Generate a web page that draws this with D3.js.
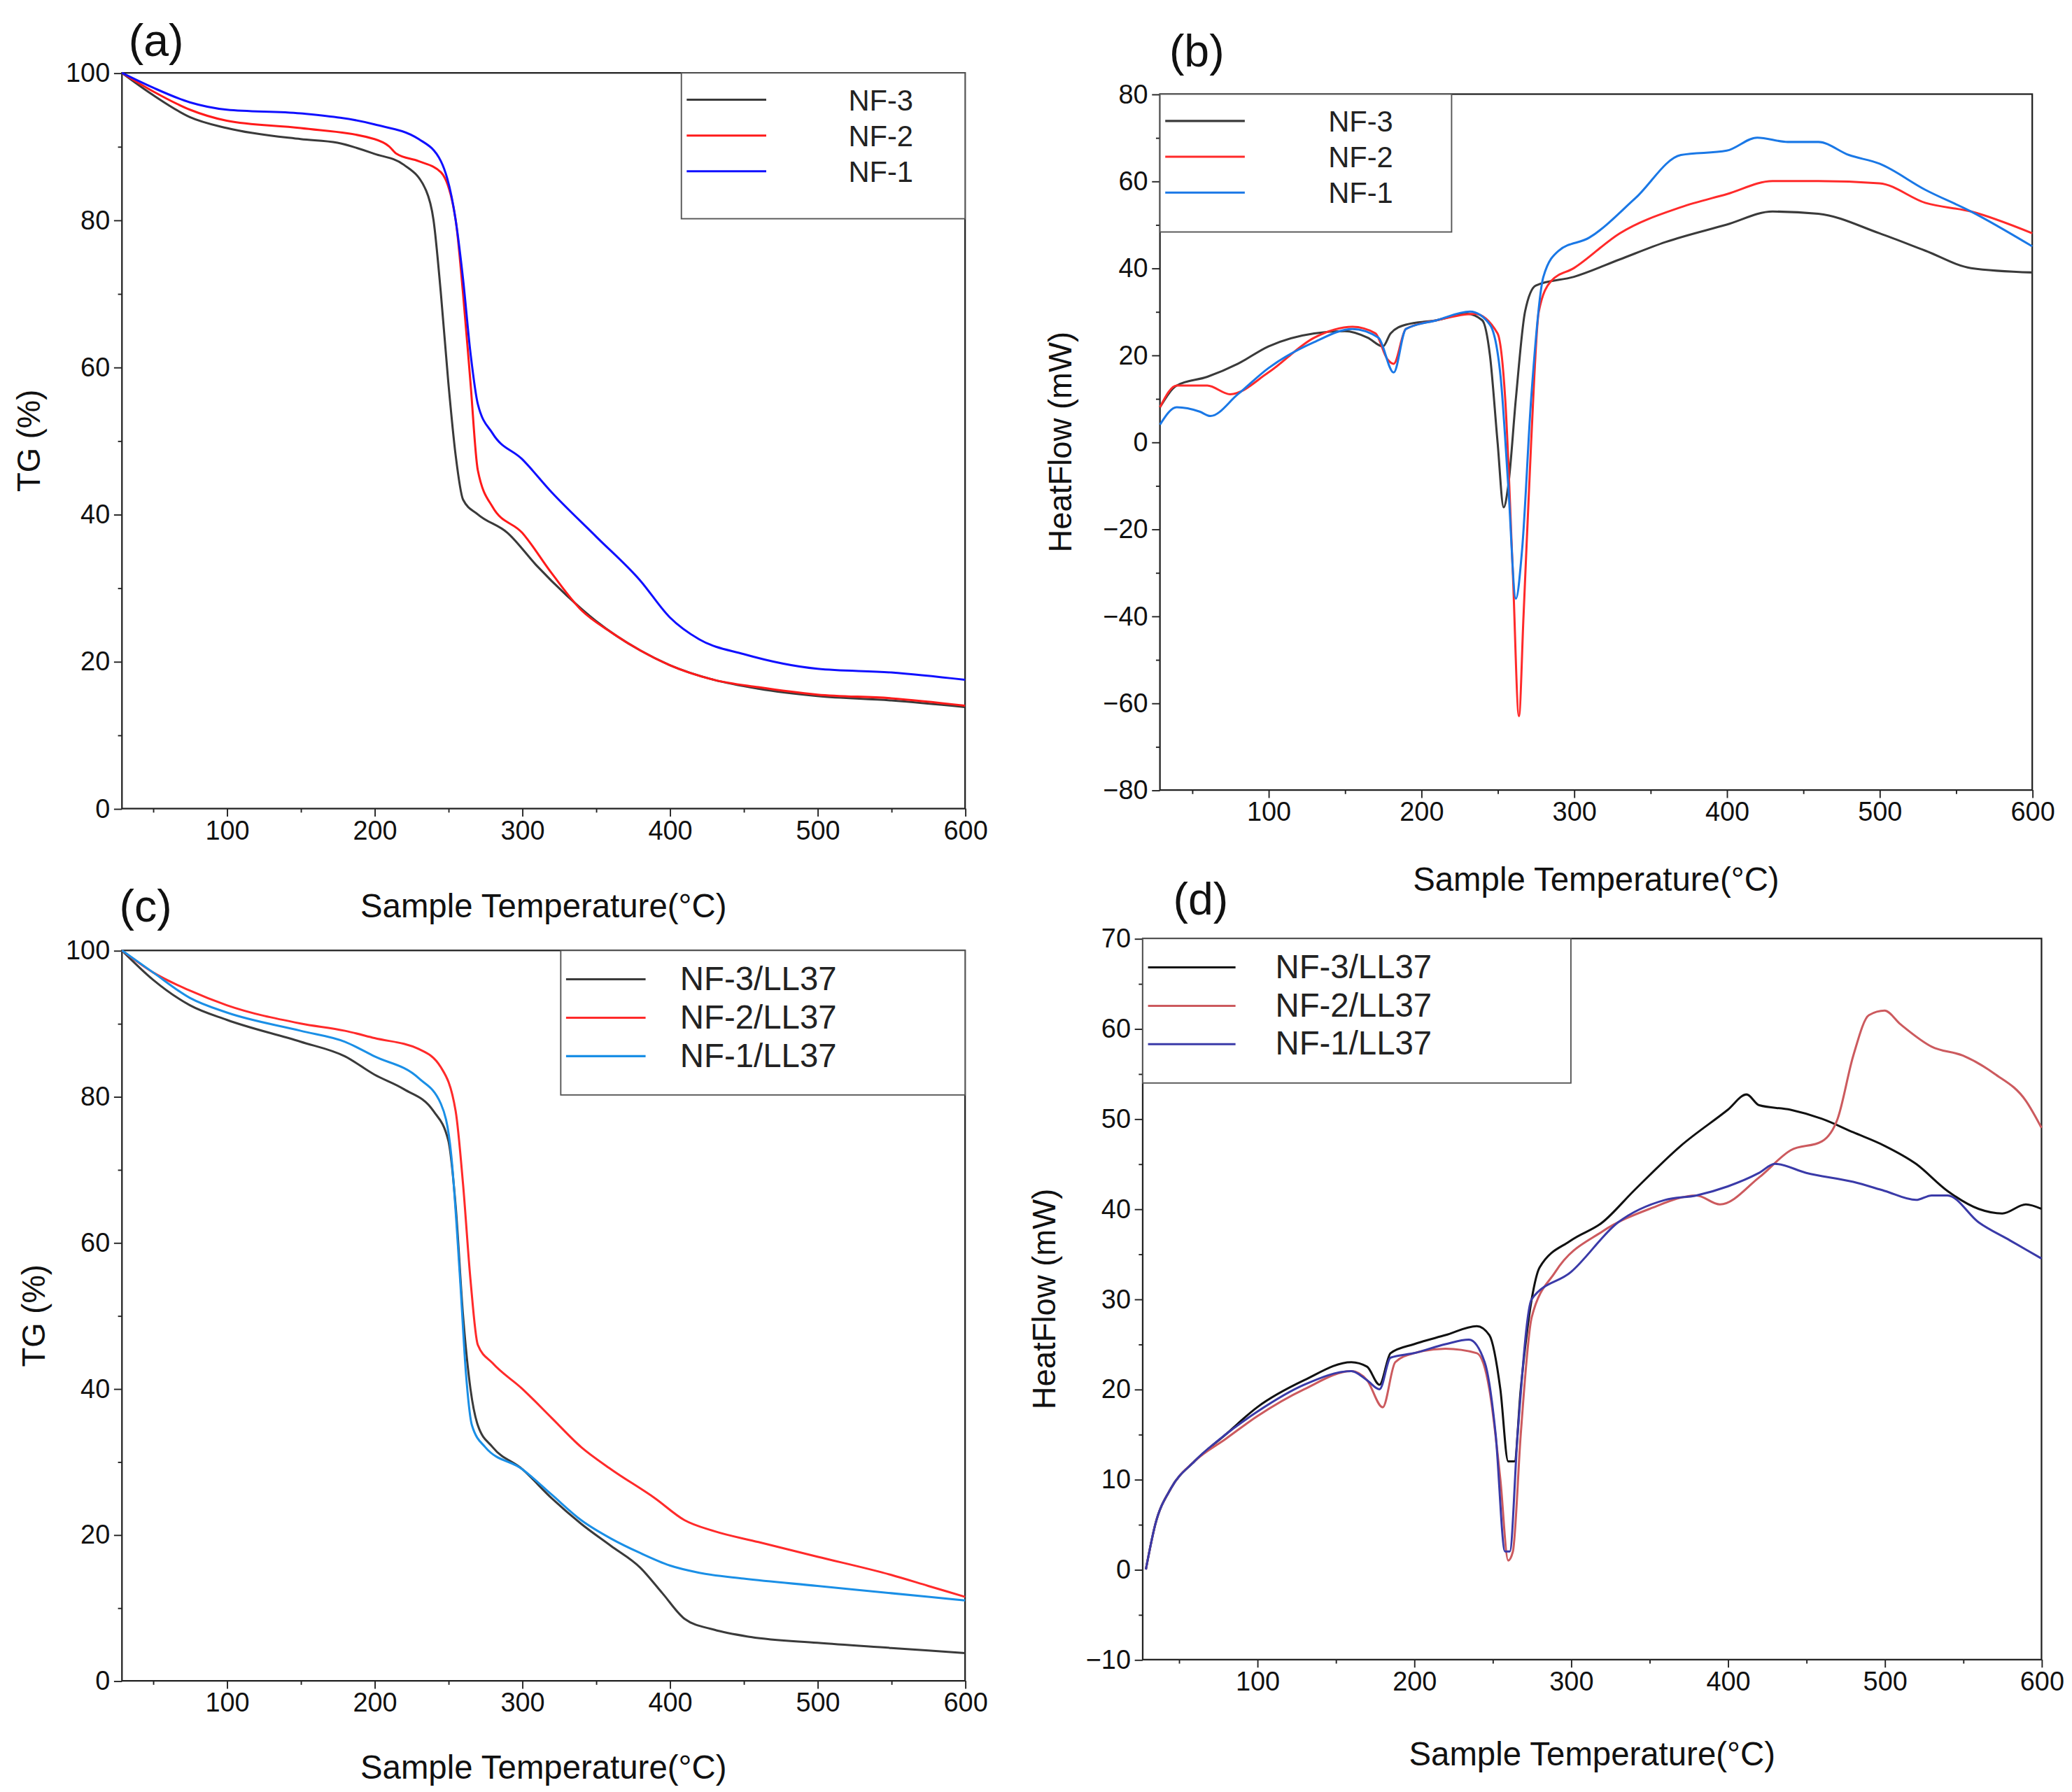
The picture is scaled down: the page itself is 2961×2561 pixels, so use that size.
<!DOCTYPE html>
<html><head><meta charset="utf-8">
<script src="https://cdn.jsdelivr.net/npm/d3@7"></script>
<style>body{margin:0;background:#fff}text{font-family:Arial,"Liberation Sans",sans-serif}</style>
</head><body><svg id="c" width="2961" height="2561"></svg>
<script>
// Panel (a) TG
const aNF3=[[29,100],[50,97],[75,94],[100,92.5],[150,91],[175,90.5],[200,89],[220,87.5],[235,84],[240,80],[245,70],[250,58],[255,48],[260,42],[270,40],[290,37.5],[310,33],[330,29],[350,25.5],[380,21.5],[400,19.5],[430,17.5],[460,16.3],[500,15.3],[550,14.7],[600,13.8]];
const aNF2=[[29,100],[50,97.5],[75,95],[100,93.5],[150,92.5],[200,91],[210,90],[215,89],[230,88],[245,86.5],[255,80],[260,70],[265,58],[270,46],[280,41],[300,37.5],[320,32],[340,27],[360,24],[380,21.5],[400,19.5],[430,17.5],[460,16.5],[500,15.5],[550,15],[600,14]];
const aNF1=[[29,100],[50,98],[75,96],[100,95],[150,94.5],[200,93],[230,91],[245,88],[255,80],[260,72],[265,62],[270,55],[280,51],[300,47.5],[320,43],[350,37],[380,31],[400,26],[420,23],[450,21],[500,19],[550,18.5],[600,17.5]];
// Panel (b) HeatFlow
const bNF3=[[29,8],[40,13],[60,15],[80,18],[100,22],[130,25],[150,25.5],[165,24],[175,22],[180,25],[190,27],[210,28],[230,29.5],[240,28],[245,20],[250,0],[254,-15],[257,-10],[262,10],[268,30],[275,36],[300,38],[330,42],[360,46],[400,50],[430,53],[460,52.5],[500,48],[530,44],[560,40],[600,39]];
const bNF2=[[29,8],[40,13],[60,13],[75,11],[100,16],[130,24],[155,26.5],[170,25],[178,19],[182,18],[190,26],[210,28],[235,29.5],[250,25],[255,10],[260,-30],[264,-63],[267,-40],[272,0],[277,30],[285,37],[300,40],[330,48],[370,54],[400,57],[430,60],[460,60],[500,59.5],[530,55],[560,53],[600,48]];
const bNF1=[[29,4],[40,8],[55,7],[62,6],[80,11],[100,17],[130,23],[155,26],[172,24],[182,16],[190,26],[210,28],[232,30],[245,27],[252,15],[257,-10],[262,-36],[266,-25],[272,10],[280,38],[290,44],[310,47],[340,56],[370,66],[400,67],[420,70],[440,69],[460,69],[480,66],[500,64],[530,58],[560,53],[600,45]];
// Panel (c) TG
const cNF3=[[29,100],[50,96],[75,92.5],[100,90.5],[150,87.5],[180,85.5],[200,83],[220,81],[240,78],[250,74],[255,65],[260,50],[265,40],[270,35],[280,32],[300,29],[320,25],[340,21.5],[360,18.5],[380,15.5],[395,12],[410,8.5],[430,7],[455,6],[500,5.2],[550,4.5],[600,3.8]];
const cNF2=[[29,100],[50,97],[75,94.5],[100,92.5],[150,90],[180,89],[200,88],[230,86.5],[245,84],[255,78],[260,68],[265,55],[270,46],[280,43.5],[300,40],[320,36],[340,32],[360,29],[390,25],[410,22],[430,20.5],[460,19],[500,17],[550,14.5],[575,13],[600,11.5]];
const cNF1=[[29,100],[50,97],[75,93.5],[100,91.5],[150,89],[180,87.5],[200,85.5],[230,82.5],[245,79],[252,72],[258,55],[262,42],[266,35],[275,32],[300,29],[320,25.5],[340,22],[360,19.5],[380,17.5],[400,15.8],[420,14.8],[450,14],[500,13],[550,12],[600,11]];
// Panel (d) HeatFlow
const dNF3=[[29,0],[35,5],[45,9],[60,12],[80,15],[100,18],[130,21],[160,23],[170,22.5],[178,20.5],[185,24],[200,25],[220,26],[240,27],[248,26],[255,20],[260,12],[264,12],[268,20],[275,30],[280,33.5],[300,36.5],[320,38.5],[340,42],[370,47],[400,51],[412,52.7],[420,51.5],[440,51],[460,50],[480,48.5],[500,47],[520,45],[540,42],[560,40],[575,39.5],[590,40.5],[600,40]];
const dNF2=[[29,0],[35,5],[45,9],[60,12],[80,14.5],[100,17],[130,20],[160,22],[170,21],[180,18],[188,23],[200,24],[220,24.5],[240,24],[248,20],[255,10],[260,1],[263,2],[268,15],[275,28],[290,33],[320,37.5],[350,40],[380,41.5],[395,40.5],[420,43.5],[440,46.5],[460,47.5],[470,50],[480,57],[490,61.5],[500,62],[510,60.5],[530,58],[550,57],[570,55],[590,52],[600,49]];
const dNF1=[[29,0],[35,5],[45,9],[60,12],[80,15],[100,17.5],[130,20.5],[160,22],[170,21],[178,20],[185,23.5],[200,24],[220,25],[235,25.5],[245,23],[252,15],[258,2],[261,2],[266,15],[275,30],[300,33],[330,38.5],[360,41],[380,41.5],[400,42.5],[420,44],[430,45],[450,44],[480,43],[500,42],[520,41],[530,41.5],[540,41.5],[560,38.5],[580,36.5],[600,34.5]];
const xTicks=[100,200,300,400,500,600];
const tgTicks=[0,20,40,60,80,100];
const bTicks=[-80,-60,-40,-20,0,20,40,60,80];
const dTicks=[-10,0,10,20,30,40,50,60,70];

const svg=d3.select("#c").append("g").attr("transform","scale("+(2961/1563)+")");
function panel(o){
  const g=svg.append("g");
  const x=d3.scaleLinear().domain(o.xd).range([o.x0,o.x1]);
  const y=d3.scaleLinear().domain(o.yd).range([o.y1,o.y0]);
  const ax=g.append("g").attr("transform",`translate(0,${o.y1})`).call(d3.axisBottom(x).tickValues(xTicks).tickSize(6).tickFormat(d3.format("d")));
  g.append("g").attr("transform",`translate(0,${o.y1})`).call(d3.axisBottom(x).tickValues(d3.range(50,600,100)).tickSize(3).tickFormat(""));
  const ay=g.append("g").attr("transform",`translate(${o.x0},0)`).call(d3.axisLeft(y).tickValues(o.yt).tickSize(6));
  const mt=[];for(let i=0;i<o.yt.length-1;i++)mt.push((o.yt[i]+o.yt[i+1])/2);
  g.append("g").attr("transform",`translate(${o.x0},0)`).call(d3.axisLeft(y).tickValues(mt).tickSize(3).tickFormat(""));
  g.selectAll(".domain").remove();
  g.selectAll("text").attr("font-size",20).attr("fill","#111");
  g.selectAll(".tick line").attr("stroke","#222");
  g.append("rect").attr("x",o.x0).attr("y",o.y0).attr("width",o.x1-o.x0).attr("height",o.y1-o.y0).attr("fill","none").attr("stroke","#222").attr("stroke-width",1.2);
  const line=d3.line().x(d=>x(d[0])).y(d=>y(d[1])).curve(d3.curveMonotoneX);
  o.series.forEach(s=>g.append("path").datum(s.d).attr("d",line).attr("fill","none").attr("stroke",s.c).attr("stroke-width",1.6));
  // legend
  const L=o.leg;
  g.append("rect").attr("x",L.x).attr("y",L.y).attr("width",L.w).attr("height",L.h).attr("fill","#fff").attr("stroke","#555");
  o.series.forEach((s,i)=>{
    const yy=L.y+L.dy*(i+0.75);
    g.append("line").attr("x1",L.x+4).attr("x2",L.x+L.lw).attr("y1",yy).attr("y2",yy).attr("stroke",s.c).attr("stroke-width",1.6);
    g.append("text").attr("x",L.tx).attr("y",yy+8).attr("font-size",L.fs).attr("fill","#222").text(s.n);
  });
  g.append("text").attr("x",(o.x0+o.x1)/2).attr("y",o.xly).attr("text-anchor","middle").attr("font-size",25).attr("fill","#111").text("Sample Temperature(°C)");
  g.append("text").attr("transform",`translate(${o.ylx},${(o.y0+o.y1)/2}) rotate(-90)`).attr("text-anchor","middle").attr("font-size",24).attr("fill","#111").text(o.yl);
  g.append("text").attr("x",o.px).attr("y",o.py).attr("font-size",34).attr("fill","#111").text(o.p);
}
panel({x0:92,x1:728,y0:55,y1:610,xd:[29,600],yd:[0,100],yt:tgTicks,yl:"TG (%)",ylx:30,xly:692,p:"(a)",px:97,py:42,
  series:[{n:"NF-3",c:"#3a3a3a",d:aNF3},{n:"NF-2",c:"#ff1a1a",d:aNF2},{n:"NF-1",c:"#1010ff",d:aNF1}],
  leg:{x:514,y:55,w:214,h:110,dy:27,lw:64,tx:640,fs:22}});
panel({x0:875,x1:1533,y0:71,y1:596,xd:[29,600],yd:[-80,80],yt:bTicks,yl:"HeatFlow (mW)",ylx:808,xly:672,p:"(b)",px:882,py:50,
  series:[{n:"NF-3",c:"#3a3a3a",d:bNF3},{n:"NF-2",c:"#ff2a2a",d:bNF2},{n:"NF-1",c:"#1a78e6",d:bNF1}],
  leg:{x:875,y:71,w:220,h:104,dy:27,lw:64,tx:1002,fs:22}});
panel({x0:92,x1:728,y0:717,y1:1268,xd:[29,600],yd:[0,100],yt:tgTicks,yl:"TG (%)",ylx:34,xly:1342,p:"(c)",px:90,py:695,
  series:[{n:"NF-3/LL37",c:"#3a3a3a",d:cNF3},{n:"NF-2/LL37",c:"#ff2a2a",d:cNF2},{n:"NF-1/LL37",c:"#1a8fe6",d:cNF1}],
  leg:{x:423,y:717,w:305,h:109,dy:29,lw:64,tx:513,fs:25}});
panel({x0:862,x1:1540,y0:708,y1:1252,xd:[27,600],yd:[-10,70],yt:dTicks,yl:"HeatFlow (mW)",ylx:796,xly:1332,p:"(d)",px:885,py:690,
  series:[{n:"NF-3/LL37",c:"#111",d:dNF3},{n:"NF-2/LL37",c:"#cc5a5e",d:dNF2},{n:"NF-1/LL37",c:"#3a3aa8",d:dNF1}],
  leg:{x:862,y:708,w:323,h:109,dy:29,lw:70,tx:962,fs:25}});
</script></body></html>
